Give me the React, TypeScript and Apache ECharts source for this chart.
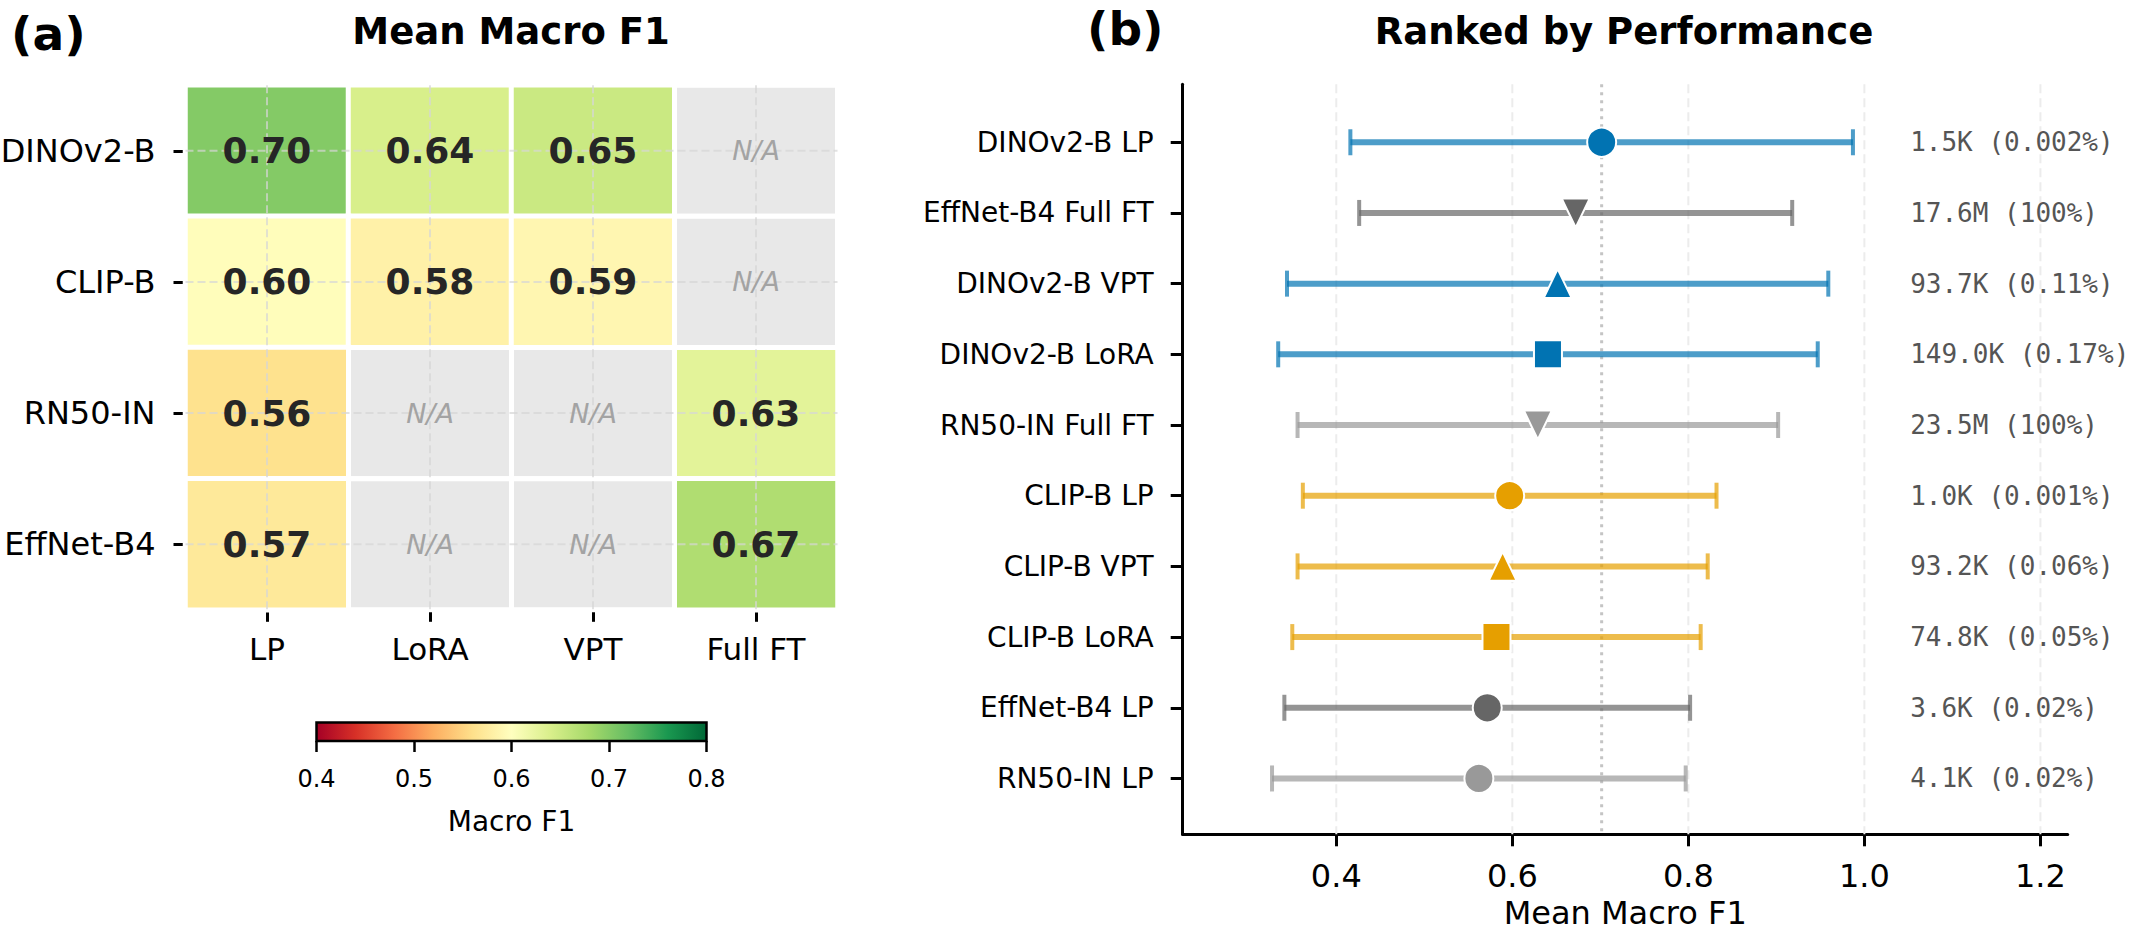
import React, { useEffect, useRef } from 'react';
import * as echarts from 'echarts';

const FONT = '"DejaVu Sans", sans-serif';
const MONO = '"DejaVu Sans Mono", monospace';

// Backbones (rows) and adaptation methods (columns)
const models = ['DINOv2-B', 'CLIP-B', 'RN50-IN', 'EffNet-B4'];
const methods = ['LP', 'LoRA', 'VPT', 'Full FT'];

// Mean macro F1 across tasks; null = combination not evaluated
const meanF1: (number | null)[][] = [
  [0.7015, 0.6405, 0.6515, null],
  [0.597, 0.582, 0.589, null],
  [0.562, null, null, 0.629],
  [0.5715, null, null, 0.672],
];

// Standard deviation across tasks
const stdF1: (number | null)[][] = [
  [0.2855, 0.3065, 0.3075, null],
  [0.235, 0.232, 0.233, null],
  [0.235, null, null, 0.273],
  [0.2305, null, null, 0.246],
];

// Trainable parameters (share of the full model)
const trainableParams: (string | null)[][] = [
  ['1.5K (0.002%)', '149.0K (0.17%)', '93.7K (0.11%)', null],
  ['1.0K (0.001%)', '74.8K (0.05%)', '93.2K (0.06%)', null],
  ['4.1K (0.02%)', null, null, '23.5M (100%)'],
  ['3.6K (0.02%)', null, null, '17.6M (100%)'],
];

const colorbarTicks = [0.4, 0.5, 0.6, 0.7, 0.8];
const rankTicks = [0.4, 0.6, 0.8, 1.0, 1.2];

const modelColors = ['#0173B2', '#E69F00', '#999999', '#666666'];
const RdYlGn = [
  '#a50026', '#d73027', '#f46d43', '#fdae61', '#fee08b', '#ffffbf',
  '#d9ef8b', '#a6d96a', '#66bd63', '#1a9850', '#006837',
];

type Entry = { model: number; method: number; mean: number; std: number; params: string };

const entries: Entry[] = [];
models.forEach((_, i) =>
  methods.forEach((_, j) => {
    const m = meanF1[i][j];
    if (m != null) {
      entries.push({ model: i, method: j, mean: m, std: stdF1[i][j] as number, params: trainableParams[i][j] as string });
    }
  })
);
entries.sort((a, b) => b.mean - a.mean);
const rankedLabels = entries.map((e) => `${models[e.model]} ${methods[e.method]}`);
const bestMean = entries[0].mean;

const markerFor = (method: number) => {
  switch (methods[method]) {
    case 'LP':
      return { symbol: 'circle', symbolSize: 29, symbolRotate: 0 };
    case 'LoRA':
      return { symbol: 'rect', symbolSize: 28, symbolRotate: 0 };
    case 'VPT':
      return { symbol: 'triangle', symbolSize: [28, 29], symbolRotate: 0 };
    default:
      return { symbol: 'triangle', symbolSize: [28, 29], symbolRotate: 180 };
  }
};

const heatCells: number[][] = [];
const naCells: number[][] = [];
const allCells: number[][] = [];
models.forEach((_, i) =>
  methods.forEach((_, j) => {
    const v = meanF1[i][j];
    if (v != null) heatCells.push([j, i, v]);
    else naCells.push([j, i]);
    allCells.push([j, i]);
  })
);

function buildOption(): any {
  const black = '#000';
  return {
    animation: false,
    backgroundColor: '#ffffff',
    textStyle: { fontFamily: FONT },
    grid: [
      { left: 185.5, top: 85.2, width: 652, height: 524.6, containLabel: false, outerBoundsMode: 'none' },
      { left: 316.5, top: 722.5, width: 390, height: 18.5, containLabel: false, outerBoundsMode: 'none' },
      { left: 1182.7, top: 84.3, width: 885, height: 750, containLabel: false, outerBoundsMode: 'none' },
    ],
    visualMap: [
      {
        type: 'continuous',
        min: 0.4,
        max: 0.8,
        dimension: 2,
        seriesIndex: 0,
        show: false,
        inRange: { color: RdYlGn },
      },
    ],
    xAxis: [
      {
        type: 'category',
        gridIndex: 0,
        data: methods,
        position: 'bottom',
        axisLine: { show: false },
        axisTick: { show: true, alignWithLabel: true, length: 12, lineStyle: { color: black, width: 3 } },
        axisLabel: { fontSize: 31, color: black, margin: 24, fontFamily: FONT },
        splitLine: { show: false },
      },
      {
        type: 'value',
        gridIndex: 1,
        min: 0.4,
        max: 0.8,
        interval: 0.1,
        axisLine: { show: false, onZero: false },
        axisTick: { show: true, length: 11, lineStyle: { color: black, width: 2.5 } },
        axisLabel: {
          fontSize: 24,
          color: black,
          margin: 26,
          fontFamily: FONT,
          customValues: colorbarTicks,
          formatter: (v: number) => v.toFixed(1),
        },
        splitLine: { show: false },
        name: 'Macro F1',
        nameLocation: 'middle',
        nameGap: 66,
        nameTextStyle: { fontSize: 28, color: black, fontFamily: FONT },
      },
      {
        type: 'value',
        gridIndex: 2,
        min: 0.2255,
        max: 1.231,
        axisLine: { show: true, onZero: false, lineStyle: { color: black, width: 3 } },
        axisTick: { show: true, length: 12, lineStyle: { color: black, width: 3 }, customValues: rankTicks },
        axisLabel: {
          fontSize: 32,
          color: black,
          margin: 26,
          fontFamily: FONT,
          customValues: rankTicks,
          formatter: (v: number) => v.toFixed(1),
        },
        splitLine: { show: false },
        name: 'Mean Macro F1',
        nameLocation: 'middle',
        nameGap: 63,
        nameTextStyle: { fontSize: 32, color: black, fontFamily: FONT },
      },
    ],
    yAxis: [
      {
        type: 'category',
        gridIndex: 0,
        data: models,
        inverse: true,
        axisLine: { show: false },
        axisTick: { show: true, alignWithLabel: true, length: 12, lineStyle: { color: black, width: 3 } },
        axisLabel: { fontSize: 32, color: black, margin: 30, fontFamily: FONT },
        splitLine: { show: false },
      },
      {
        type: 'value',
        gridIndex: 1,
        min: 0,
        max: 1,
        show: false,
      },
      {
        type: 'value',
        gridIndex: 2,
        min: -0.82,
        max: 9.79,
        inverse: true,
        axisLine: { show: true, onZero: false, lineStyle: { color: black, width: 3 } },
        axisTick: {
          show: true,
          length: 12,
          lineStyle: { color: black, width: 3 },
          customValues: rankedLabels.map((_, k) => k),
        },
        axisLabel: {
          fontSize: 28,
          color: black,
          margin: 29,
          fontFamily: FONT,
          customValues: rankedLabels.map((_, k) => k),
          formatter: (v: number) => rankedLabels[Math.round(v)] ?? '',
        },
        splitLine: { show: false },
      },
    ],
    graphic: [
      {
        type: 'text',
        x: 11,
        y: 33.5,
        style: {
          text: '(a)', font: `bold 47px ${FONT}`, fill: black,
          align: 'left', verticalAlign: 'middle', textAlign: 'left', textVerticalAlign: 'middle',
        },
      },
      {
        type: 'text',
        x: 511,
        y: 31.5,
        style: {
          text: 'Mean Macro F1', font: `bold 37px ${FONT}`, fill: black,
          align: 'center', verticalAlign: 'middle', textAlign: 'center', textVerticalAlign: 'middle',
        },
      },
      {
        type: 'text',
        x: 1087,
        y: 28.5,
        style: {
          text: '(b)', font: `bold 47px ${FONT}`, fill: black,
          align: 'left', verticalAlign: 'middle', textAlign: 'left', textVerticalAlign: 'middle',
        },
      },
      {
        type: 'text',
        x: 1624,
        y: 31.5,
        style: {
          text: 'Ranked by Performance', font: `bold 37px ${FONT}`, fill: black,
          align: 'center', verticalAlign: 'middle', textAlign: 'center', textVerticalAlign: 'middle',
        },
      },
    ],
    series: [
      // (a) heatmap of mean macro F1
      {
        type: 'heatmap',
        xAxisIndex: 0,
        yAxisIndex: 0,
        data: heatCells,
        z: 2,
        itemStyle: { borderColor: '#ffffff', borderWidth: 5 },
        label: { show: false },
        emphasis: { disabled: true },
        progressive: 0,
      },
      // not-evaluated cells
      {
        type: 'custom',
        xAxisIndex: 0,
        yAxisIndex: 0,
        data: naCells,
        z: 2,
        encode: { x: 0, y: 1 },
        renderItem: (params: any, api: any) => {
          const c = api.coord([api.value(0), api.value(1)]);
          const s = api.size([1, 1]);
          return {
            type: 'rect',
            shape: { x: c[0] - s[0] / 2, y: c[1] - s[1] / 2, width: s[0], height: s[1] },
            style: { fill: '#e8e8e8', stroke: '#ffffff', lineWidth: 5 },
          };
        },
      },
      // dashed grid through cell centres
      {
        type: 'custom',
        xAxisIndex: 0,
        yAxisIndex: 0,
        data: methods.map((_, k) => [k, k]),
        z: 3,
        encode: { x: 0, y: 1 },
        renderItem: (params: any, api: any) => {
          const cs = params.coordSys;
          const c = api.coord([api.value(0), api.value(1)]);
          const ls = { stroke: 'rgba(214,214,214,0.7)', lineWidth: 2, lineDash: [8, 4] };
          return {
            type: 'group',
            children: [
              { type: 'line', shape: { x1: c[0], y1: cs.y, x2: c[0], y2: cs.y + cs.height }, style: ls },
              { type: 'line', shape: { x1: cs.x, y1: c[1], x2: cs.x + cs.width, y2: c[1] }, style: ls },
            ],
          };
        },
      },
      // cell annotations
      {
        type: 'custom',
        xAxisIndex: 0,
        yAxisIndex: 0,
        data: allCells,
        z: 4,
        encode: { x: 0, y: 1 },
        renderItem: (params: any, api: any) => {
          const j = api.value(0);
          const i = api.value(1);
          const c = api.coord([j, i]);
          const v = meanF1[i][j];
          const style =
            v != null
              ? { text: v.toFixed(2), font: `bold 36px ${FONT}`, fill: '#262626' }
              : { text: 'N/A', font: `italic 27px ${FONT}`, fill: '#a3a3a3' };
          return {
            type: 'text',
            x: c[0],
            y: c[1],
            style: {
              ...style,
              align: 'center', verticalAlign: 'middle', textAlign: 'center', textVerticalAlign: 'middle',
            },
          };
        },
      },
      // colorbar
      {
        type: 'custom',
        xAxisIndex: 1,
        yAxisIndex: 1,
        data: [[0.4, 0, 0.8, 1]],
        encode: { x: [0, 2], y: [1, 3] },
        renderItem: (params: any, api: any) => {
          const p0 = api.coord([api.value(0), api.value(3)]);
          const p1 = api.coord([api.value(2), api.value(1)]);
          const stops = RdYlGn.map((color, k) => ({ offset: k / (RdYlGn.length - 1), color }));
          return {
            type: 'rect',
            shape: { x: p0[0], y: p0[1], width: p1[0] - p0[0], height: p1[1] - p0[1] },
            style: {
              fill: new echarts.graphic.LinearGradient(0, 0, 1, 0, stops),
              stroke: '#000',
              lineWidth: 2.5,
            },
          };
        },
      },
      // (b) vertical grid lines
      {
        type: 'custom',
        xAxisIndex: 2,
        yAxisIndex: 2,
        data: rankTicks.map((v) => [v, 0]),
        z: 1,
        encode: { x: 0, y: 1 },
        renderItem: (params: any, api: any) => {
          const cs = params.coordSys;
          const c = api.coord([api.value(0), 0]);
          return {
            type: 'line',
            shape: { x1: c[0], y1: cs.y, x2: c[0], y2: cs.y + cs.height },
            style: { stroke: '#ececec', lineWidth: 2, lineDash: [9, 5] },
          };
        },
      },
      // best-score reference line
      {
        type: 'custom',
        xAxisIndex: 2,
        yAxisIndex: 2,
        data: [[bestMean, 0]],
        z: 1,
        encode: { x: 0, y: 1 },
        renderItem: (params: any, api: any) => {
          const cs = params.coordSys;
          const c = api.coord([api.value(0), 0]);
          return {
            type: 'line',
            shape: { x1: c[0], y1: cs.y, x2: c[0], y2: cs.y + cs.height },
            style: { stroke: '#c4c4c4', lineWidth: 3, lineDash: [3, 5] },
          };
        },
      },
      // error bars (mean ± std)
      {
        type: 'custom',
        xAxisIndex: 2,
        yAxisIndex: 2,
        data: entries.map((e, k) => [e.mean, k, e.mean - e.std, e.mean + e.std]),
        z: 2,
        encode: { x: [0, 2, 3], y: 1 },
        renderItem: (params: any, api: any) => {
          const e = entries[params.dataIndex];
          const color = modelColors[e.model];
          const y = api.value(1);
          const lo = api.coord([api.value(2), y]);
          const hi = api.coord([api.value(3), y]);
          const bar = { stroke: color, lineWidth: 6, opacity: 0.7 };
          const cap = { stroke: color, lineWidth: 4, opacity: 0.7 };
          const half = 13;
          return {
            type: 'group',
            children: [
              { type: 'line', shape: { x1: lo[0], y1: lo[1], x2: hi[0], y2: hi[1] }, style: bar },
              { type: 'line', shape: { x1: lo[0], y1: lo[1] - half, x2: lo[0], y2: lo[1] + half }, style: cap },
              { type: 'line', shape: { x1: hi[0], y1: hi[1] - half, x2: hi[0], y2: hi[1] + half }, style: cap },
            ],
          };
        },
      },
      // mean markers
      {
        type: 'scatter',
        xAxisIndex: 2,
        yAxisIndex: 2,
        z: 5,
        emphasis: { disabled: true },
        data: entries.map((e, k) => ({
          value: [e.mean, k],
          ...markerFor(e.method),
          itemStyle: { color: modelColors[e.model], borderColor: '#ffffff', borderWidth: 2, opacity: 1 },
        })),
      },
      // trainable-parameter annotations
      {
        type: 'custom',
        xAxisIndex: 2,
        yAxisIndex: 2,
        z: 5,
        data: entries.map((e, k) => [1.052, k]),
        encode: { x: 0, y: 1 },
        renderItem: (params: any, api: any) => {
          const c = api.coord([api.value(0), api.value(1)]);
          return {
            type: 'text',
            x: c[0],
            y: c[1],
            style: {
              text: entries[params.dataIndex].params,
              font: `26px ${MONO}`,
              fill: '#555555',
              align: 'left', verticalAlign: 'middle', textAlign: 'left', textVerticalAlign: 'middle',
            },
          };
        },
      },
    ],
  };
}

export default function App() {
  const ref = useRef<HTMLDivElement>(null);
  useEffect(() => {
    if (!ref.current) return;
    const chart = echarts.init(ref.current, undefined, { renderer: 'svg' });
    chart.setOption(buildOption());
    return () => chart.dispose();
  }, []);
  return (
    <div
      ref={ref}
      style={{ position: 'fixed', left: 0, top: 0, width: 2131, height: 936, background: '#fff' }}
    />
  );
}
